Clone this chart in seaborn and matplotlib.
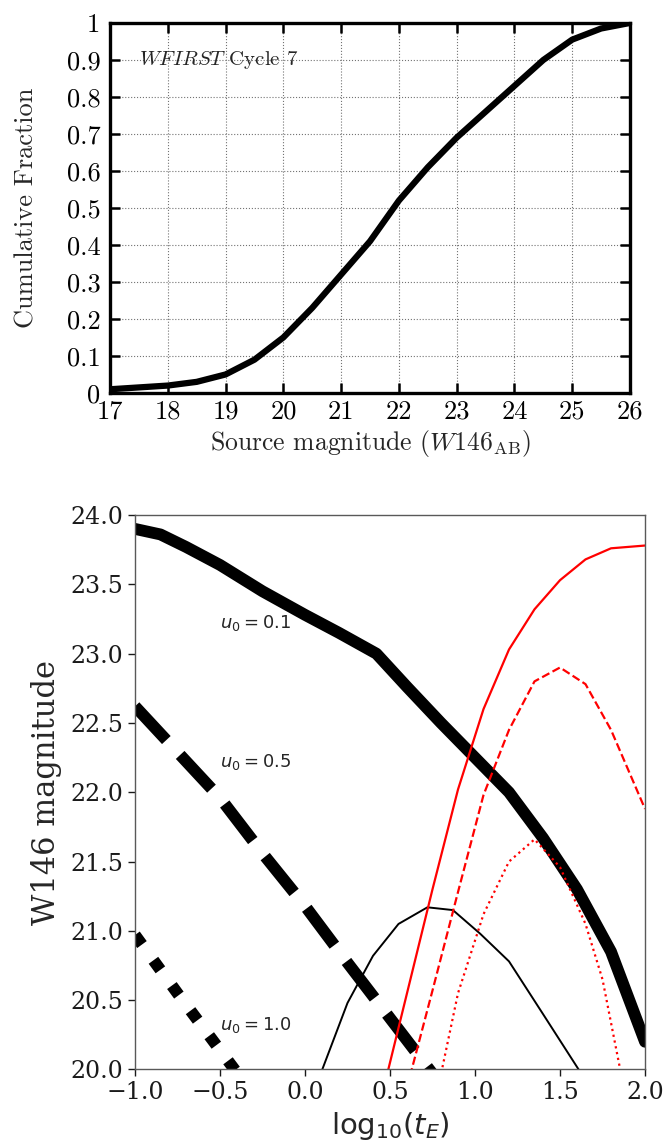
#!/usr/bin/env python3
"""
plot.py

Two stacked panels: cumulative fraction of WFIRST source magnitudes (top)
and W146 magnitude limits against log10(tE) for several u0 (bottom).
"""

import seaborn as sns
import matplotlib.pyplot as plt

# top panel: cumulative distribution of source magnitudes
src_mag = [17, 17.5, 18, 18.5, 19, 19.5, 20, 20.5, 21, 21.5, 22, 22.5, 23,
           23.5, 24, 24.5, 25, 25.5, 26]
cum_frac = [0.01, 0.015, 0.02, 0.03, 0.05, 0.09, 0.15, 0.23, 0.32, 0.41, 0.52,
            0.61, 0.69, 0.76, 0.83, 0.90, 0.955, 0.985, 1.0]
mag_ticks = [17, 18, 19, 20, 21, 22, 23, 24, 25, 26]
frac_ticks = [0, 0.1, 0.2, 0.3, 0.4, 0.5, 0.6, 0.7, 0.8, 0.9, 1.0]
frac_labels = ["0", "0.1", "0.2", "0.3", "0.4", "0.5", "0.6", "0.7", "0.8", "0.9", "1"]

# bottom panel: black thick curves (u0 = 0.1, 0.5, 1.0)
logte_u01 = [-1.0, -0.85, -0.7, -0.5, -0.25, 0.0, 0.2, 0.42, 0.6, 0.8, 1.0,
             1.2, 1.4, 1.6, 1.8, 2.0]
mag_u01 = [23.90, 23.86, 23.77, 23.64, 23.45, 23.28, 23.15, 23.00, 22.76,
           22.50, 22.25, 22.00, 21.67, 21.30, 20.85, 20.20]
logte_u05 = [-1.0, -0.75, -0.5, -0.25, 0.0, 0.25, 0.5, 0.75, 0.9]
mag_u05 = [22.62, 22.29, 21.96, 21.56, 21.18, 20.77, 20.37, 19.97, 19.72]
logte_u10 = [-1.0, -0.75, -0.5, -0.25]
mag_u10 = [20.97, 20.55, 20.14, 19.73]

# thin black curve
logte_thin = [0.08, 0.25, 0.4, 0.55, 0.72, 0.87, 1.03, 1.2, 1.4, 1.62, 1.65]
mag_thin = [19.93, 20.48, 20.82, 21.05, 21.17, 21.15, 20.98, 20.78, 20.40, 19.98, 19.92]

# red curves
logte_red = [0.45, 0.6, 0.75, 0.9, 1.05, 1.2, 1.35, 1.5, 1.65, 1.8, 2.0]
mag_red_solid = [19.80, 20.55, 21.30, 22.02, 22.60, 23.03, 23.32, 23.53, 23.68, 23.76, 23.78]
logte_red_dash = [0.6, 0.75, 0.9, 1.05, 1.2, 1.35, 1.5, 1.65, 1.8, 2.0]
mag_red_dash = [19.87, 20.57, 21.28, 21.98, 22.45, 22.80, 22.90, 22.78, 22.45, 21.88]
logte_red_dot = [0.78, 0.9, 1.05, 1.2, 1.35, 1.5, 1.65, 1.75, 1.87]
mag_red_dot = [19.85, 20.55, 21.12, 21.50, 21.66, 21.46, 21.05, 20.65, 19.90]

u0_labels = [r"$u_0 = 0.1$", r"$u_0 = 0.5$", r"$u_0 = 1.0$"]
u0_label_y = [23.22, 22.22, 20.32]
te_ticks = [-1.0, -0.5, 0.0, 0.5, 1.0, 1.5, 2.0]
w146_ticks = [20.0, 20.5, 21.0, 21.5, 22.0, 22.5, 23.0, 23.5, 24.0]

sns.set_theme(style="white")
plt.rcParams["font.family"] = ["DejaVu Sans"]

fig = plt.figure(figsize=(6.64, 11.42), dpi=100)

# ---- top panel ----
ax1 = fig.add_axes([0.1657, 0.6559, 0.7831, 0.3240])
sns.lineplot(x=src_mag, y=cum_frac, color="black", lw=4.5, ax=ax1)
ax1.set_xlim(17, 26)
ax1.set_ylim(0, 1)
ax1.set_xticks(mag_ticks)
ax1.set_yticks(frac_ticks)
ax1.set_yticklabels(frac_labels)
ax1.grid(True, ls=":", color="0.45", lw=0.8)
for sp in ax1.spines.values():
    sp.set_linewidth(2.4)
    sp.set_color("black")
ax1.tick_params(direction="in", length=7, width=1.8, top=True, right=True,
                bottom=True, left=True, labelsize=19, pad=7,
                labelfontfamily="cmr10", colors="black")
ax1.tick_params(axis="x", pad=5)
ax1.set_xlabel(r"Source magnitude ($W146_{\rm AB}$)", fontsize=18.5,
               family="cmr10", math_fontfamily="cm", labelpad=3)
ax1.set_ylabel("Cumulative Fraction", fontsize=19, family="cmr10", labelpad=20)
ax1.text(17.5, 0.9, r"$WFIRST$ Cycle 7", fontsize=15, family="cmr10",
         math_fontfamily="cm", va="center", ha="left")

# ---- bottom panel ----
ax2 = fig.add_axes([0.2033, 0.0635, 0.7681, 0.4855])
sns.lineplot(x=logte_u01, y=mag_u01, color="black", lw=8.5, ax=ax2)
sns.lineplot(x=logte_u05, y=mag_u05, color="black", lw=8.5,
             linestyle=(0, (3.9, 1.72)), ax=ax2)
sns.lineplot(x=logte_u10, y=mag_u10, color="black", lw=8.5, linestyle=":", ax=ax2)
sns.lineplot(x=logte_thin, y=mag_thin, color="black", lw=1.4, ax=ax2)
sns.lineplot(x=logte_red, y=mag_red_solid, color="red", lw=1.6, ax=ax2)
sns.lineplot(x=logte_red_dash, y=mag_red_dash, color="red", lw=1.6, linestyle="--", ax=ax2)
sns.lineplot(x=logte_red_dot, y=mag_red_dot, color="red", lw=1.6, linestyle=":", ax=ax2)

for lab, yy in zip(u0_labels, u0_label_y):
    ax2.text(-0.5, yy, lab, fontsize=13, va="center", ha="left")

ax2.set_xlim(-1.0, 2.0)
ax2.set_ylim(20.0, 24.0)
ax2.set_xticks(te_ticks)
ax2.set_yticks(w146_ticks)
for sp in ax2.spines.values():
    sp.set_linewidth(1.0)
    sp.set_color("0.35")
ax2.tick_params(direction="out", length=5, width=1, bottom=True, left=True,
                labelsize=17, labelfontfamily="DejaVu Serif", colors="0.1")
ax2.set_xlabel(r"log$_{10}$($t_E$)", fontsize=21, labelpad=4)
ax2.set_ylabel("W146 magnitude", fontsize=22, family="DejaVu Serif", labelpad=6)

fig.savefig("out.png", dpi=100, facecolor="white")
